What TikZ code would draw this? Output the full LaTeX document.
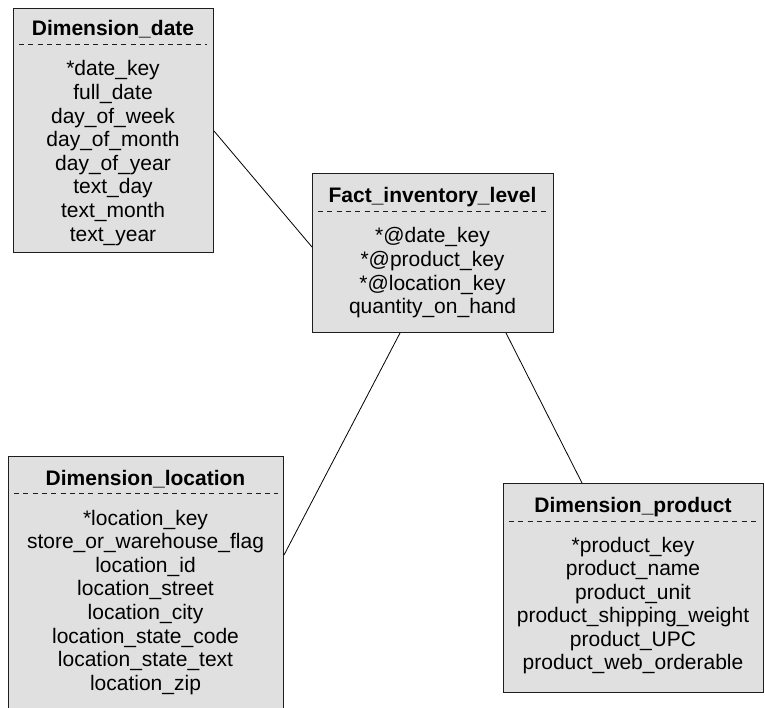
\documentclass[tikz,border=0pt]{standalone}
\usepackage{fontspec}
\setmainfont{Liberation Sans}
\definecolor{boxfill}{RGB}{224,224,224}
\definecolor{edge}{RGB}{30,30,30}
\begin{document}
\begin{tikzpicture}[x=1pt,y=-1pt,
  tbl/.style={draw=edge, fill=boxfill, line width=1pt, inner sep=0pt, anchor=north west, rectangle},
  ttl/.style={anchor=base, inner sep=0pt, font=\fontsize{21}{24}\selectfont\bfseries},
  fld/.style={anchor=base, inner sep=0pt, font=\fontsize{21}{24}\selectfont},
  sepline/.style={draw=edge, dash pattern=on 5pt off 4.3pt, line width=0.8pt},
  link/.style={draw=black, line width=0.8pt}]
\useasboundingbox (0,0) rectangle (765,708);
\begin{scope}
\clip (0,0) rectangle (765,708);

% Dimension_date
\node[tbl, minimum width=200pt, minimum height=244pt] (date) at (13,8) {};
\node[ttl] (date-t) at (113,36) {Dimension\_date};
\draw[sepline] (19,44) -- (207,44);
\foreach \t [count=\i] in {*date\_key, full\_date, day\_of\_week, day\_of\_month, day\_of\_year, text\_day, text\_month, text\_year}
  \node[fld] (date-r\i) at (113,{76+23.6*(\i-1)}) {\t};

% Fact_inventory_level
\node[tbl, minimum width=241pt, minimum height=159pt] (fact) at (312,173) {};
\node[ttl] (fact-t) at (432.5,203) {Fact\_inventory\_level};
\draw[sepline] (318,211) -- (548,211);
\foreach \t [count=\i] in {*@date\_key, *@product\_key, *@location\_key, quantity\_on\_hand}
  \node[fld] (fact-r\i) at (432.5,{243+23.6*(\i-1)}) {\t};

% Dimension_location
\node[tbl, minimum width=275pt, minimum height=270pt] (loc) at (8,456) {};
\node[ttl] (loc-t) at (145.5,485) {Dimension\_location};
\draw[sepline] (14,493) -- (278,493);
\foreach \t [count=\i] in {*location\_key, store\_or\_warehouse\_flag, location\_id, location\_street, location\_city, location\_state\_code, location\_state\_text, location\_zip}
  \node[fld] (loc-r\i) at (145.5,{525+23.6*(\i-1)}) {\t};

% Dimension_product
\node[tbl, minimum width=260pt, minimum height=209pt] (prod) at (503,483) {};
\node[ttl] (prod-t) at (633,512) {Dimension\_product};
\draw[sepline] (509,521) -- (758,521);
\foreach \t [count=\i] in {*product\_key, product\_name, product\_unit, product\_shipping\_weight, product\_UPC, product\_web\_orderable}
  \node[fld] (prod-r\i) at (633,{552+23.5*(\i-1)}) {\t};

% connectors
\draw[link] ([yshift=-123pt]date.north east) -- ([yshift=-74pt]fact.north west);
\draw[link] ([xshift=88pt]fact.south west) -- ([yshift=-99pt]loc.north east);
\draw[link] ([xshift=194pt]fact.south west) -- ([xshift=79pt]prod.north west);
\end{scope}
\end{tikzpicture}
\end{document}
